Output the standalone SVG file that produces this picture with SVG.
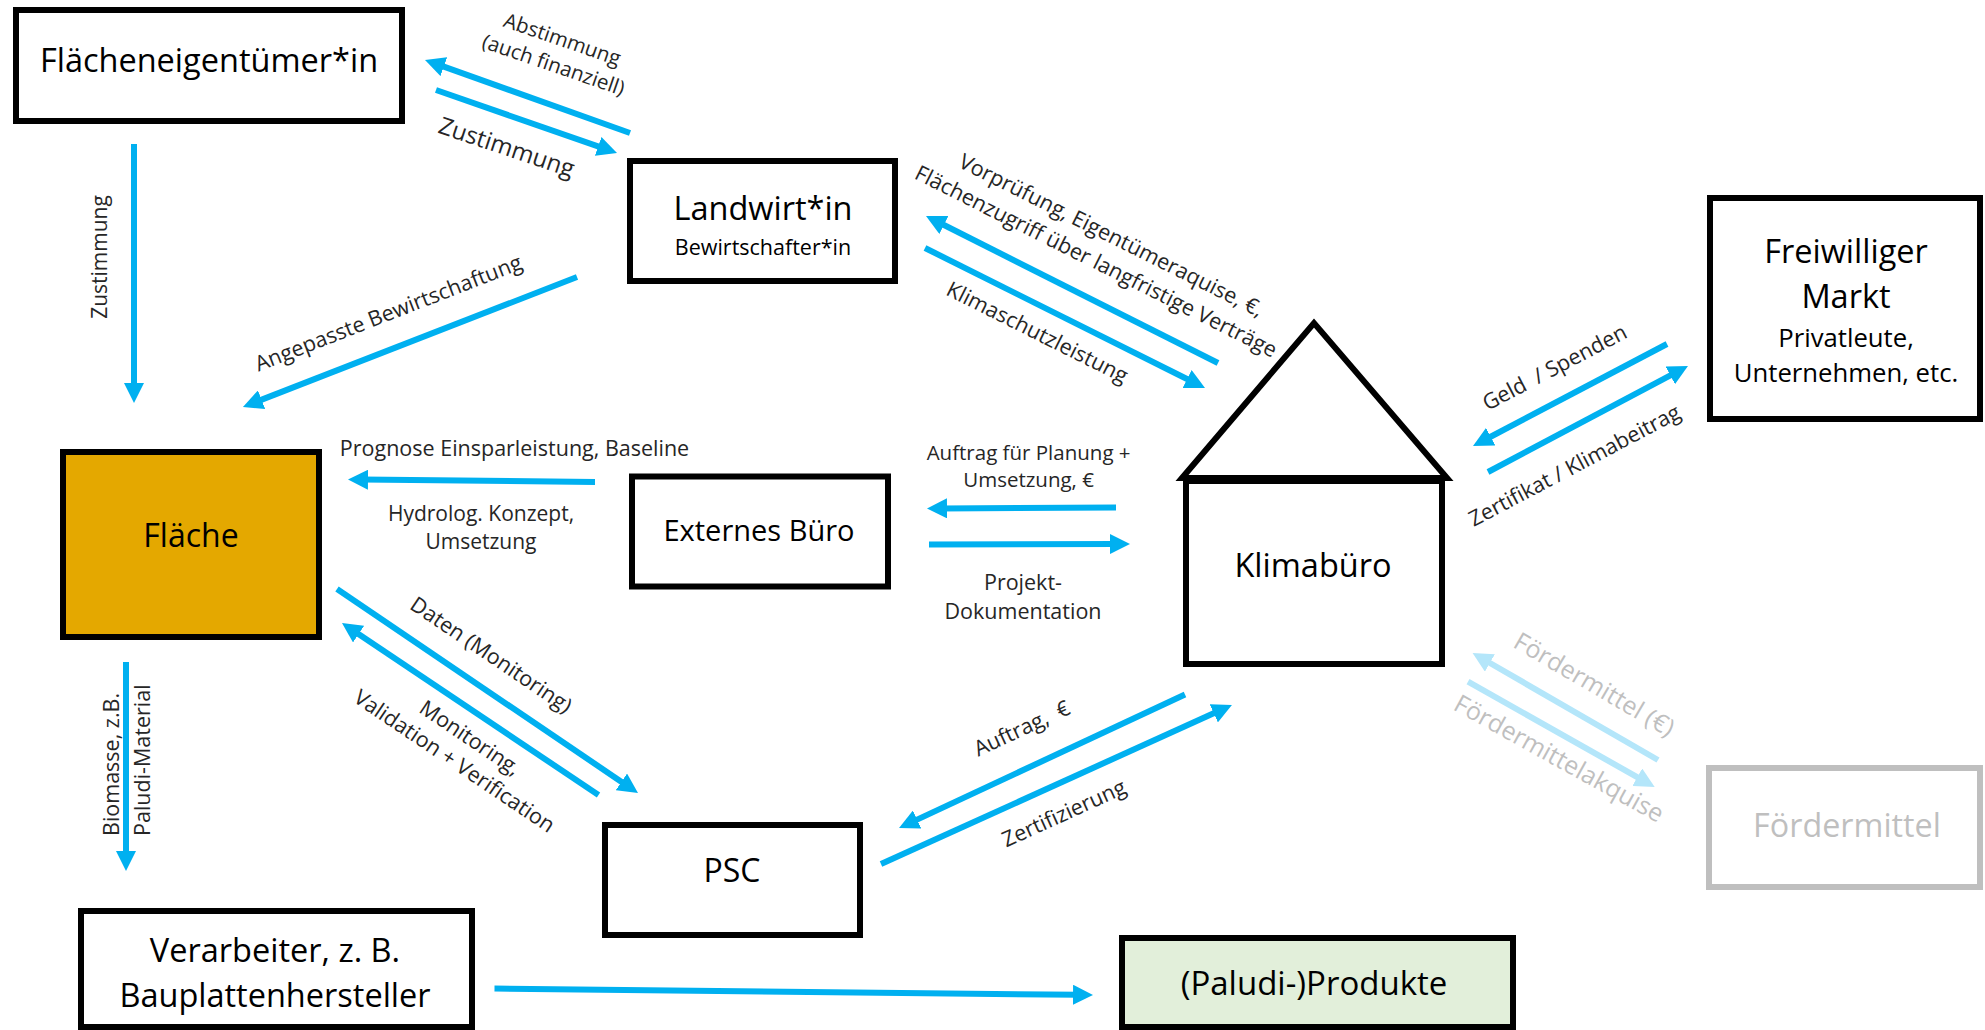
<svg xmlns="http://www.w3.org/2000/svg" width="1985" height="1030" viewBox="0 0 1985 1030">
  <defs>
    <marker id="ah" markerUnits="userSpaceOnUse" markerWidth="20" markerHeight="20" viewBox="0 0 20 20" refX="6" refY="10" orient="auto">
      <path d="M0,0 L20,10 L0,20 z" fill="#00B0F0"/>
    </marker>
    <marker id="ahl" markerUnits="userSpaceOnUse" markerWidth="20" markerHeight="20" viewBox="0 0 20 20" refX="6" refY="10" orient="auto">
      <path d="M0,0 L20,10 L0,20 z" fill="#B4E6FA"/>
    </marker>
  </defs>
  <style>
    text { font-family: 'Open Sans', 'Noto Sans', sans-serif; fill: #000; text-anchor: middle; }
    .box { fill: #fff; stroke: #000; stroke-width: 6; }
    .big { font-size: 32.5px; }
    .sub { font-size: 21.5px; }
    .lbl { font-size: 21.5px; fill: #262626; }
    .conn line { stroke: #00B0F0; stroke-width: 6; marker-end: url(#ah); }
    .conn line.faint { stroke: #B4E6FA; marker-end: url(#ahl); }
    .gray { fill: #BFBFBF; }
  </style>
  <rect width="1985" height="1030" fill="#fff"/>

  <g id="connectors" class="conn">
    <line x1="630" y1="133" x2="438.2" y2="64.7"/>
    <line x1="436" y1="90" x2="603.8" y2="148.4"/>
    <line x1="134" y1="144" x2="134" y2="389"/>
    <line x1="577" y1="277" x2="256" y2="401.9"/>
    <line x1="1218" y1="363" x2="938.5" y2="222.3"/>
    <line x1="925" y1="248" x2="1192.5" y2="381.7"/>
    <line x1="1667" y1="344" x2="1485.4" y2="439.5"/>
    <line x1="1488" y1="472" x2="1675.6" y2="372.6"/>
    <line x1="595" y1="482" x2="362" y2="479.6"/>
    <line x1="1116" y1="507.5" x2="941" y2="508.4"/>
    <line x1="929" y1="544.5" x2="1116" y2="544"/>
    <line x1="337" y1="589" x2="626.4" y2="785.2"/>
    <line x1="598.5" y1="795" x2="353.6" y2="630.8"/>
    <line x1="1185" y1="694.5" x2="911.7" y2="822.1"/>
    <line x1="881" y1="864" x2="1219.2" y2="710.8"/>
    <line x1="126" y1="662" x2="126" y2="857"/>
    <line x1="494.5" y1="988.6" x2="1079" y2="994.8"/>
    <line class="faint" x1="1658" y1="760" x2="1484.7" y2="660"/>
    <line class="faint" x1="1468" y1="681.7" x2="1642.5" y2="780.1"/>

    <g id="connector-labels">
      <g transform="translate(560,46) rotate(19)">
        <text class="lbl" style="font-size:20.5px" x="0" y="0">Abstimmung</text>
        <text class="lbl" style="font-size:20.5px" x="0" y="27">(auch finanziell)</text>
      </g>
      <text class="lbl" style="font-size:24px" transform="translate(504,155) rotate(18.5)">Zustimmung</text>
      <text class="lbl" style="font-size:21px" transform="translate(107,257) rotate(-90)">Zustimmung</text>
      <text class="lbl" transform="translate(391,320) rotate(-21.3)">Angepasste Bewirtschaftung</text>
      <g transform="translate(1108,242) rotate(26.6)">
        <text class="lbl" x="0" y="0">Vorprüfung, Eigentümeraquise, €,</text>
        <text class="lbl" x="-2" y="30">Flächenzugriff über langfristige Verträge</text>
      </g>
      <text class="lbl" transform="translate(1034,339) rotate(26.6)">Klimaschutzleistung</text>
      <text class="lbl" xml:space="preserve" transform="translate(1558,374) rotate(-27.7)">Geld  / Spenden</text>
      <text class="lbl" transform="translate(1578,472) rotate(-27.8)">Zertifikat / Klimabeitrag</text>
      <text class="lbl" x="514.5" y="456">Prognose Einsparleistung, Baseline</text>
      <text class="lbl" style="font-size:21px" x="481" y="521">Hydrolog. Konzept,</text>
      <text class="lbl" style="font-size:21px" x="481" y="549">Umsetzung</text>
      <text class="lbl" style="font-size:20.5px" x="1028.6" y="460">Auftrag für Planung +</text>
      <text class="lbl" style="font-size:20.5px" x="1028.6" y="487">Umsetzung, €</text>
      <text class="lbl" x="1023" y="590">Projekt-</text>
      <text class="lbl" x="1023" y="619">Dokumentation</text>
      <text class="lbl" transform="translate(487,661) rotate(34)">Daten (Monitoring)</text>
      <g transform="translate(466,744) rotate(34)">
        <text class="lbl" x="0" y="0">Monitoring,</text>
        <text class="lbl" x="0" y="28">Validation + Verification</text>
      </g>
      <g transform="translate(118.5,836) rotate(-90)">
        <text class="lbl" style="text-anchor:start" x="0" y="0">Biomasse, z.B.</text>
        <text class="lbl" style="text-anchor:start" x="0" y="31.5">Paludi-Material</text>
      </g>
      <text class="lbl" xml:space="preserve" transform="translate(1025,735) rotate(-25)">Auftrag,  €</text>
      <text class="lbl" transform="translate(1067,820) rotate(-24.4)">Zertifizierung</text>
      <text class="lbl gray" style="font-size:25px" transform="translate(1590,692) rotate(30.2)">Fördermittel (€)</text>
      <text class="lbl gray" style="font-size:25px" transform="translate(1555,766) rotate(29)">Fördermittelakquise</text>
    </g>
  </g>

  <g id="node-flaecheneigentuemer">
    <rect class="box" x="16" y="10" width="386" height="111"/>
    <text class="big" x="209" y="72">Flächeneigentümer*in</text>
  </g>
  <g id="node-landwirt">
    <rect class="box" x="630" y="161" width="265" height="120"/>
    <text class="big" x="763" y="220">Landwirt*in</text>
    <text class="sub" x="763" y="255">Bewirtschafter*in</text>
  </g>
  <g id="node-markt">
    <rect class="box" x="1710" y="198" width="270" height="221"/>
    <text class="big" x="1846" y="263">Freiwilliger</text>
    <text class="big" x="1846" y="308">Markt</text>
    <text style="font-size:25.7px" x="1846" y="347">Privatleute,</text>
    <text style="font-size:25.7px" x="1846" y="382">Unternehmen, etc.</text>
  </g>
  <g id="node-flaeche">
    <rect class="box" style="fill:#E4A800" x="63" y="452" width="256" height="185"/>
    <text class="big" style="font-size:32px" x="191" y="547">Fläche</text>
  </g>
  <g id="node-externes-buero">
    <rect class="box" x="632" y="476.5" width="256" height="110"/>
    <text class="big" style="font-size:29px" x="759" y="541">Externes Büro</text>
  </g>
  <g id="node-klimabuero">
    <rect class="box" x="1186" y="481" width="256" height="183"/>
    <polygon class="box" points="1182,478 1314,323 1447,478" style="stroke-linejoin:miter"/>
    <text class="big" x="1313" y="577">Klimabüro</text>
  </g>
  <g id="node-psc">
    <rect class="box" x="605" y="825" width="255" height="110"/>
    <text class="big" style="font-size:32px" x="732" y="882">PSC</text>
  </g>
  <g id="node-verarbeiter">
    <rect class="box" x="81" y="911" width="391" height="116"/>
    <text class="big" x="275" y="962">Verarbeiter, z. B.</text>
    <text class="big" x="275" y="1007">Bauplattenhersteller</text>
  </g>
  <g id="node-produkte">
    <rect class="box" style="fill:#E2EFDA" x="1122" y="938" width="391" height="89"/>
    <text class="big" style="font-size:33px" x="1314" y="995">(Paludi-)Produkte</text>
  </g>
  <g id="node-foerdermittel">
    <rect class="box" style="stroke:#BFBFBF" x="1709" y="768" width="271" height="119"/>
    <text class="big gray" style="font-size:32.3px" x="1847" y="837">Fördermittel</text>
  </g>
</svg>
